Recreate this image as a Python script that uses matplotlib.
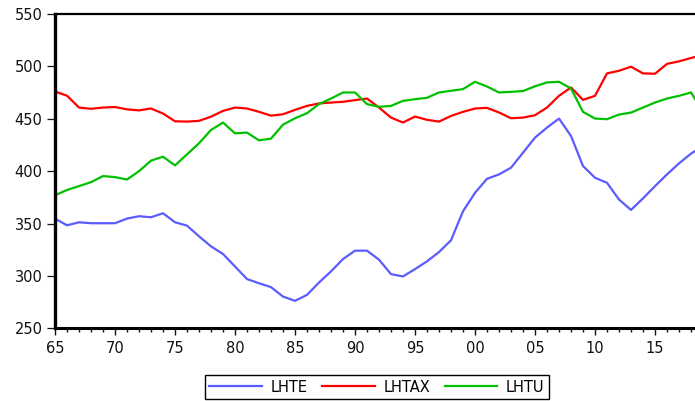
import matplotlib
matplotlib.use("Agg")
import matplotlib.pyplot as plt
from matplotlib.ticker import MultipleLocator, FuncFormatter

# series anuais 1965-2019
anos = list(range(1965, 2020))

lhte = [354.7, 348.3, 351.2, 350.3, 350.3, 350.3, 354.7, 357.0, 356.0, 359.8,
        351.2, 348.0, 337.8, 328.2, 320.9, 309.0, 297.0, 293.0, 289.3, 280.3,
        276.2, 281.9, 293.7, 304.3, 316.1, 324.1, 324.1, 315.5, 301.7, 299.5,
        306.5, 313.9, 322.8, 334.0, 361.7, 379.3, 392.7, 396.9, 403.3, 417.6,
        432.0, 441.6, 450.2, 433.6, 404.9, 393.7, 388.9, 372.9, 363.0, 374.0,
        385.7, 396.9, 407.4, 416.7, 424.0]

lhtax = [476.0, 472.0, 460.7, 459.5, 460.7, 461.2, 459.0, 458.0, 459.8, 455.0,
         447.6, 447.3, 448.0, 452.0, 457.5, 460.7, 459.8, 456.6, 453.0, 454.3,
         458.5, 462.3, 464.6, 465.5, 466.2, 467.8, 469.3, 460.7, 451.1, 446.4,
         452.1, 449.0, 447.3, 452.7, 456.6, 459.8, 460.4, 456.0, 450.5, 451.1,
         453.4, 460.7, 471.9, 479.9, 468.0, 471.9, 493.3, 495.8, 499.7, 493.3,
         493.0, 502.4, 504.8, 508.0, 511.0]

lhtu = [377.0, 382.0, 385.7, 389.5, 395.3, 394.3, 392.0, 400.0, 410.0, 413.8,
        405.5, 416.0, 426.6, 439.3, 446.4, 436.1, 436.8, 429.4, 431.0, 444.4,
        450.5, 455.3, 464.0, 469.3, 475.1, 475.1, 464.0, 461.4, 462.3, 467.1,
        468.7, 470.0, 475.1, 476.7, 478.3, 485.3, 480.8, 475.1, 475.7, 476.4,
        481.0, 484.7, 485.3, 478.9, 456.6, 450.2, 449.6, 454.0, 455.9, 460.7,
        465.5, 469.3, 471.9, 475.1, 457.0]

series = [("LHTE", lhte, "#5b5bff"), ("LHTAX", lhtax, "#ff0000"), ("LHTU", lhtu, "#00c000")]

plt.rcParams["font.family"] = ["DejaVu Sans"]

fig = plt.figure(figsize=(6.95, 4.01), dpi=100)
# o eixo passa um pouco da borda direita da figura
ax = fig.add_axes([55 / 695, 72.7 / 401, 648 / 695, 314.3 / 401])

linhas = []
for nome, valores, cor in series:
    l, = ax.plot(anos, valores, color=cor, lw=1.6, label=nome, solid_joinstyle="round")
    linhas.append(l)

ax.set_xlim(1965, 2019)
ax.set_ylim(250, 550)

ax.xaxis.set_major_locator(MultipleLocator(5))
ax.xaxis.set_minor_locator(MultipleLocator(1))
ax.xaxis.set_major_formatter(FuncFormatter(lambda v, p: "%02d" % (int(round(v)) % 100)))
ax.yaxis.set_major_locator(MultipleLocator(50))

ax.tick_params(axis="x", which="major", direction="out", length=5, width=1.0,
               labelsize=10.5, pad=4, colors="#111111")
ax.tick_params(axis="x", which="minor", direction="out", length=3, width=1.0,
               colors="#111111")
ax.tick_params(axis="y", which="major", direction="out", length=6, width=0.9,
               labelsize=10.5, pad=3, colors="#111111")

for lado, lw in [("left", 2.4), ("bottom", 2.2), ("top", 1.6)]:
    ax.spines[lado].set_linewidth(lw)
    ax.spines[lado].set_color("black")
ax.spines["right"].set_visible(False)

fig.legend(handles=linhas, loc="center", bbox_to_anchor=(377 / 695, 1 - 387 / 401),
           ncol=3, fontsize=10.5, frameon=True, fancybox=False, edgecolor="black",
           handlelength=3.6, handletextpad=0.6, columnspacing=1.0,
           borderpad=0.3, framealpha=1)
fig.legends[0].get_frame().set_linewidth(1.0)

fig.savefig("out.png", dpi=100)
